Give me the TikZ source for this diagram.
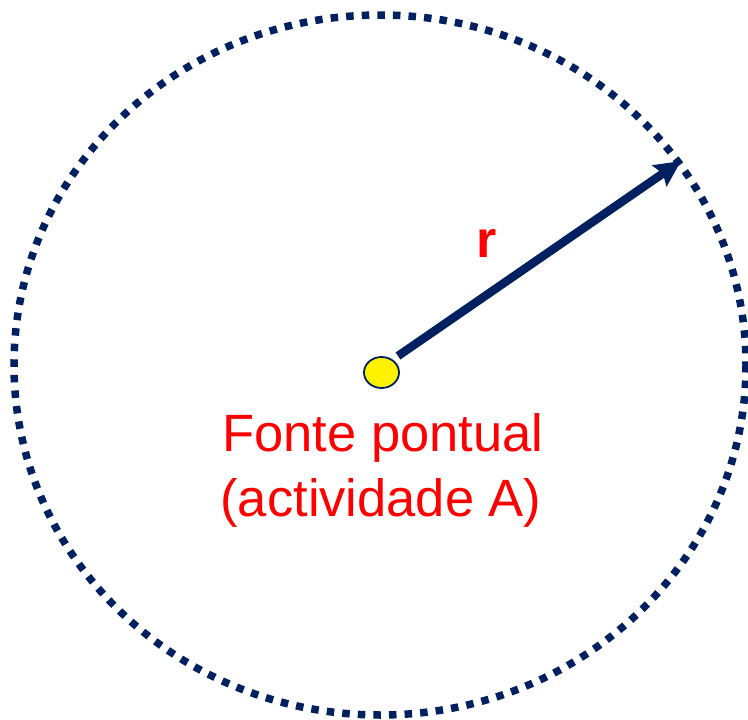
\documentclass[tikz,border=0pt]{standalone}
\usepackage{fontspec}
\setmainfont{Liberation Sans}
\usetikzlibrary{arrows.meta,shapes.geometric}
\definecolor{navy}{RGB}{0,32,96}
\definecolor{txtred}{RGB}{255,0,0}
\begin{document}
\begin{tikzpicture}[x=1pt,y=-1pt,
  boundary/.style={draw=navy,line width=7.5pt,dash pattern=on 7.5pt off 8.1pt},
  source/.style={ellipse,draw=navy,line width=1.8pt,fill=yellow},
  radius/.style={draw=navy,line width=8.5pt,-{Stealth[length=26pt,width=25pt,inset=4pt]}},
  lbl/.style={text=txtred,inner sep=0pt,anchor=base,font=\fontsize{52.5}{62}\selectfont},
  rlbl/.style={text=txtred,inner sep=0pt,font=\bfseries\fontsize{52}{60}\selectfont}]
\useasboundingbox (0,0) rectangle (748,720);
\draw[boundary] (380,365) ellipse [x radius=366, y radius=350];
\node[source,minimum width=35pt,minimum height=31pt,inner sep=0pt] (dot) at (381.5,372.5) {};
\coordinate (rstart) at (398,356);
\coordinate (rtip) at (681,161);
\draw[radius] (rstart) -- (rtip);
\node[rlbl] (r) at (487,243) {r};
\node[lbl] (fonte1) at (383,451) {Fonte pontual};
\node[lbl] (fonte2) at (381,516) {(actividade A)};
\end{tikzpicture}
\end{document}
